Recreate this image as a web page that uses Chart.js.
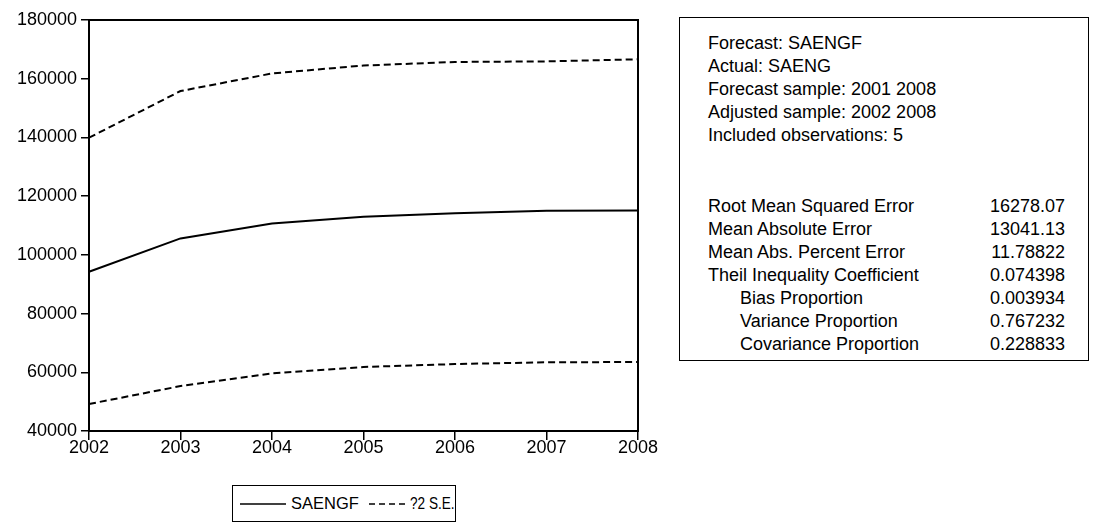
<!DOCTYPE html>
<html>
<head>
<meta charset="utf-8">
<script src="https://cdn.jsdelivr.net/npm/chart.js@4"></script>
<style>
  body { margin: 0; background: #fff; font-family: "Liberation Sans", Arial, sans-serif; color: #000; }
  #wrap { position: absolute; left: 0; top: 0; width: 660px; height: 471px; }
  #stats { position: absolute; left: 679px; top: 17px; width: 408px; height: 342px; border: 1px solid #000; font-size: 18px; }
  #stats div { position: absolute; white-space: nowrap; line-height: 20px; }
  #legend { position: absolute; left: 232px; top: 485px; width: 222px; height: 35px; border: 1px solid #000; font-size: 17px; white-space: nowrap; }
  #legend span, #legend svg { position: absolute; top: 0; transform-origin: left center; }
</style>
</head>
<body>
<div id="wrap"><canvas id="forecastChart" width="660" height="471"></canvas></div>

<div id="stats"></div>

<div id="legend">
  <svg style="left:7px" width="46" height="35"><line x1="0" y1="18" x2="46" y2="18" stroke="#000" stroke-width="1.5"/></svg>
  <span style="left:58px; line-height:35px; transform:scaleX(0.97)">SAENGF</span>
  <svg style="left:136px" width="36" height="35"><line x1="0" y1="18" x2="36" y2="18" stroke="#000" stroke-width="1.5" stroke-dasharray="6,4"/></svg>
  <span style="left:177px; line-height:35px; transform:scaleX(0.8)">?2 S.E.</span>
</div>

<script>
const years = ['2002', '2003', '2004', '2005', '2006', '2007', '2008'];
const forecast = [94250, 105600, 110700, 113000, 114200, 115000, 115100];
const upperBand = [139900, 155800, 161800, 164500, 165700, 165900, 166600];
const lowerBand = [49200, 55300, 59600, 61800, 62800, 63400, 63500];
const yTicks = [40000, 60000, 80000, 100000, 120000, 140000, 160000, 180000];

const infoLines = [
  'Forecast: SAENGF',
  'Actual: SAENG',
  'Forecast sample: 2001 2008',
  'Adjusted sample: 2002 2008',
  'Included observations: 5'
];
const statNames = [
  'Root Mean Squared Error',
  'Mean Absolute Error',
  'Mean Abs. Percent Error',
  'Theil Inequality Coefficient',
  'Bias Proportion',
  'Variance Proportion',
  'Covariance Proportion'
];
const statValues = ['16278.07', '13041.13', '11.78822', '0.074398', '0.003934', '0.767232', '0.228833'];

// text box on the right
const box = document.getElementById('stats');
infoLines.forEach((t, i) => {
  const d = document.createElement('div');
  d.textContent = t;
  d.style.left = '28px';
  d.style.top = (15 + i * 23) + 'px';
  box.appendChild(d);
});
statNames.forEach((t, i) => {
  const d = document.createElement('div');
  d.textContent = t;
  d.style.left = (i >= 4 ? 60 : 28) + 'px';
  d.style.top = (178 + i * 23) + 'px';
  box.appendChild(d);
  const v = document.createElement('div');
  v.textContent = statValues[i];
  v.style.right = '23px';
  v.style.top = (178 + i * 23) + 'px';
  box.appendChild(v);
});

const frame = {
  id: 'frame',
  afterDraw(chart) {
    const a = chart.chartArea;
    const c = chart.ctx;
    c.save();
    c.strokeStyle = '#000';
    c.lineWidth = 2;
    c.strokeRect(a.left, a.top, a.right - a.left, a.bottom - a.top);
    c.restore();
  }
};

const tickFont = { family: '"Liberation Sans", Arial, sans-serif', size: 18 };

const ctx = document.getElementById('forecastChart').getContext('2d');
new Chart(ctx, {
  type: 'line',
  data: {
    labels: years,
    datasets: [
      { label: 'SAENGF', data: forecast, borderColor: '#000', borderWidth: 2, pointRadius: 0, tension: 0 },
      { label: '?2 S.E.', data: upperBand, borderColor: '#000', borderWidth: 2, borderDash: [7, 4], pointRadius: 0, tension: 0 },
      { label: 'lower', data: lowerBand, borderColor: '#000', borderWidth: 2, borderDash: [7, 4], pointRadius: 0, tension: 0 }
    ]
  },
  options: {
    responsive: false,
    animation: false,
    layout: { padding: { left: 0, top: 20, right: 22, bottom: 0 } },
    plugins: { legend: { display: false }, tooltip: { enabled: false } },
    scales: {
      x: {
        offset: false,
        grid: { display: true, drawOnChartArea: false, drawTicks: true, tickLength: 9, color: '#000', lineWidth: 1.5 },
        border: { display: true, color: '#000', width: 2 },
        ticks: { color: '#000', font: tickFont, padding: -3, maxRotation: 0, autoSkip: false },
        afterFit(axis) { axis.height = 40; }
      },
      y: {
        min: 40000,
        max: 180000,
        grid: { display: true, drawOnChartArea: false, drawTicks: true, tickLength: 8, color: '#000', lineWidth: 1.5 },
        border: { display: true, color: '#000', width: 2 },
        afterBuildTicks(axis) { axis.ticks = yTicks.map(v => ({ value: v })); },
        ticks: { color: '#000', font: tickFont, padding: 4, callback: v => String(v) },
        afterFit(axis) { axis.width = 89; }
      }
    }
  },
  plugins: [frame]
});
</script>
</body>
</html>
